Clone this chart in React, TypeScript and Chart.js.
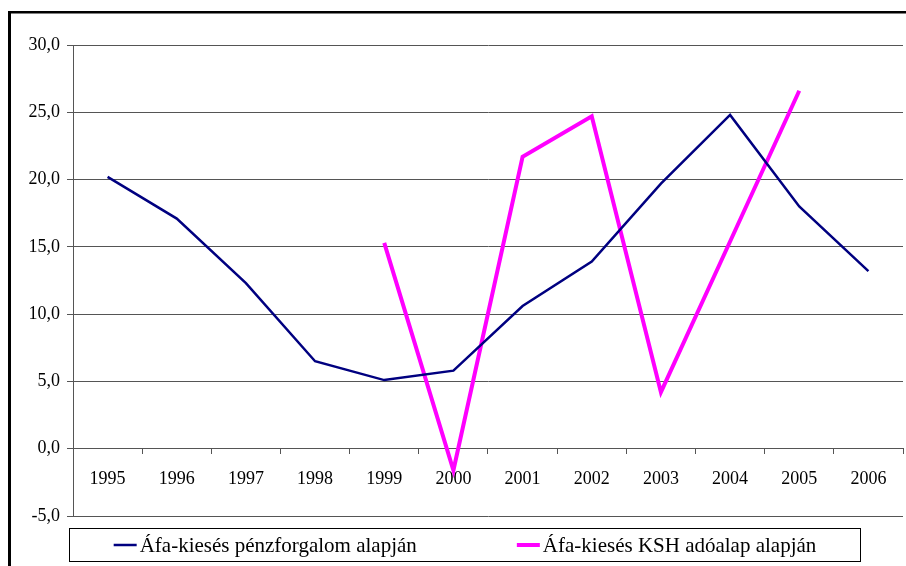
import React, { useEffect, useRef } from 'react';
import { Chart, registerables } from 'chart.js';

Chart.register(...registerables);

const years = ['1995', '1996', '1997', '1998', '1999', '2000', '2001', '2002', '2003', '2004', '2005', '2006'];
const penzforgalom = [20.2, 17.1, 12.3, 6.5, 5.1, 5.8, 10.6, 13.9, 19.7, 24.8, 18.0, 13.2];
const kshAdoalap = [null, null, null, null, 15.3, -1.6, 21.7, 24.7, 4.2, 15.4, 26.6, null];
const seriesLabels = ['Áfa-kiesés pénzforgalom alapján', 'Áfa-kiesés KSH adóalap alapján'];
const yMin = -5;
const yMax = 30;
const yStep = 5;

const FONT = "'Liberation Serif', 'Times New Roman', serif";

const framePlugin = {
  id: 'frame',
  beforeDraw(chart: any) {
    const { ctx, width, height } = chart;
    ctx.save();
    ctx.fillStyle = '#000';
    ctx.fillRect(8, 11, 3, height - 11);
    ctx.fillRect(8, 11, width - 8, 2.5);
    ctx.restore();
  },
};

const boxLegendPlugin = {
  id: 'boxLegend',
  afterDraw(chart: any) {
    const { ctx } = chart;
    const box = { left: 69.5, top: 528.5, right: 860.5, bottom: 561.5 };
    const font = `21px ${FONT}`;
    ctx.save();
    ctx.strokeStyle = '#000';
    ctx.lineWidth = 1;
    ctx.strokeRect(box.left, box.top, box.right - box.left, box.bottom - box.top);
    ctx.font = font;
    ctx.textBaseline = 'middle';
    ctx.textAlign = 'left';
    ctx.fillStyle = '#000';
    const lineW = 23;
    const gap = 3;
    const itemGap = 100;
    const items = chart.data.datasets.map((ds: any) => ({
      label: ds.label,
      color: ds.borderColor,
      lw: ds.borderWidth,
      tw: ctx.measureText(ds.label).width,
    }));
    const total = items.reduce((s: number, it: any) => s + lineW + gap + it.tw, 0) + itemGap * (items.length - 1);
    let x = (box.left + box.right) / 2 - total / 2;
    const cy = (box.top + box.bottom) / 2;
    items.forEach((it: any) => {
      ctx.strokeStyle = it.color;
      ctx.lineWidth = it.lw;
      ctx.beginPath();
      ctx.moveTo(x, cy);
      ctx.lineTo(x + lineW, cy);
      ctx.stroke();
      ctx.font = font;
      ctx.fillStyle = '#000';
      ctx.fillText(it.label, x + lineW + gap, cy + 1);
      x += lineW + gap + it.tw + itemGap;
    });
    ctx.restore();
  },
};

export default function App() {
  const ref = useRef<HTMLCanvasElement | null>(null);
  useEffect(() => {
    if (!ref.current) return;
    const chart = new Chart(ref.current, {
      type: 'line',
      data: {
        labels: years,
        datasets: [
          {
            label: seriesLabels[0],
            data: penzforgalom,
            borderColor: '#000080',
            backgroundColor: '#000080',
            borderWidth: 2.5,
            pointRadius: 0,
            tension: 0,
          },
          {
            label: seriesLabels[1],
            data: kshAdoalap,
            borderColor: '#FF00FF',
            backgroundColor: '#FF00FF',
            borderWidth: 4,
            pointRadius: 0,
            tension: 0,
          },
        ],
      },
      options: {
        responsive: false,
        animation: false,
        layout: { padding: { left: 0, top: 45, right: 3, bottom: 50 } },
        plugins: {
          legend: { display: false },
          tooltip: { enabled: false },
        },
        scales: {
          y: {
            min: yMin,
            max: yMax,
            afterFit(scale: any) {
              scale.width = 73;
            },
            ticks: {
              stepSize: yStep,
              color: '#000',
              padding: 7,
              font: { family: FONT, size: 18 },
              callback: (v: any) => Number(v).toFixed(1).replace('.', ','),
            },
            grid: { color: '#555', lineWidth: 1, tickLength: 6, drawTicks: true },
            border: { display: true, color: '#555', width: 1 },
          },
          x: {
            type: 'category',
            position: { y: 0 } as any,
            offset: true,
            ticks: {
              color: '#000',
              padding: 15,
              maxRotation: 0,
              autoSkip: false,
              font: { family: FONT, size: 18 },
            },
            grid: { offset: true, drawOnChartArea: false, drawTicks: true, tickLength: 5, color: '#555' },
            border: { display: true, color: '#555', width: 1 },
          },
        },
      },
      plugins: [framePlugin, boxLegendPlugin],
    } as any);
    return () => chart.destroy();
  }, []);
  return (
    <div style={{ position: 'fixed', left: 0, top: 0, width: 906, height: 566, background: '#fff' }}>
      <canvas ref={ref} width={906} height={566} style={{ display: 'block', width: 906, height: 566 }} />
    </div>
  );
}
